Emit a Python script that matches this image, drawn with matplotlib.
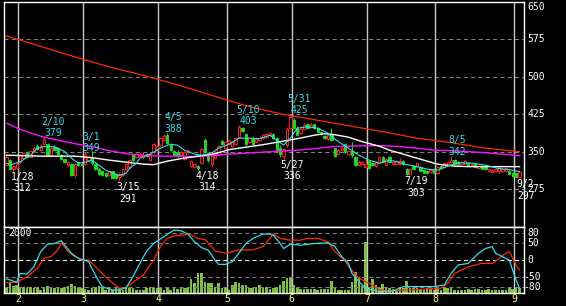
import numpy as np
import matplotlib.pyplot as plt

# daily candles, 2011/1/26 .. 9/2 (index = trading day)
opens = [323, 333, 316, 318, 330, 337, 349, 340, 350, 362,
         353, 365, 366, 344, 360, 357, 344, 336, 323, 326,
         303, 330, 326, 326, 333, 340, 325, 315, 311, 308,
         304, 311, 305, 300, 303, 316, 319, 345, 339, 342,
         340, 345, 334, 350, 353, 364, 374, 383, 363, 352,
         349, 344, 336, 349, 322, 320, 322, 327, 374, 345,
         326, 337, 345, 371, 357, 366, 362, 366, 380, 398,
         385, 370, 377, 369, 373, 377, 380, 384, 386, 377,
         357, 341, 363, 397, 414, 398, 387, 396, 405, 400,
         405, 398, 390, 381, 375, 383, 357, 345, 353, 366,
         345, 352, 340, 324, 325, 320, 331, 328, 322, 327,
         340, 323, 340, 326, 325, 326, 331, 316, 306, 322,
         321, 320, 314, 312, 310, 313, 307, 322, 319, 324,
         330, 333, 330, 326, 326, 327, 323, 325, 318, 321,
         319, 312, 310, 311, 312, 311, 312, 312, 308, 307,
         299]
highs = [343, 335, 324, 328, 345, 349, 351, 353, 361, 366,
         365, 379, 368, 360, 364, 359, 346, 338, 331, 328,
         327, 332, 329, 349, 343, 352, 327, 317, 313, 310,
         314, 312, 307, 309, 318, 328, 336, 346, 348, 347,
         350, 347, 347, 367, 364, 379, 385, 388, 365, 354,
         353, 352, 352, 356, 333, 327, 323, 358, 378, 348,
         343, 352, 364, 373, 372, 375, 372, 380, 403, 400,
         388, 380, 379, 379, 381, 385, 388, 390, 388, 380,
         363, 358, 400, 425, 418, 402, 398, 408, 407, 407,
         406, 400, 392, 384, 385, 397, 358, 355, 360, 368,
         353, 370, 342, 334, 331, 336, 333, 330, 331, 342,
         342, 338, 342, 332, 333, 337, 333, 318, 318, 324,
         330, 322, 316, 313, 315, 315, 322, 324, 330, 332,
         342, 335, 331, 332, 334, 329, 328, 327, 323, 323,
         322, 318, 316, 318, 323, 318, 319, 314, 310, 308,
         310]
lows = [322, 314, 312, 316, 328, 335, 337, 339, 349, 354,
        351, 363, 342, 342, 352, 344, 333, 327, 320, 301,
        300, 322, 322, 323, 330, 323, 314, 303, 301, 299,
        302, 297, 295, 291, 301, 314, 316, 331, 337, 339,
        336, 339, 331, 348, 351, 362, 372, 366, 351, 342,
        340, 342, 334, 346, 320, 317, 314, 325, 348, 330,
        322, 335, 343, 363, 355, 364, 360, 364, 378, 389,
        364, 368, 364, 367, 371, 375, 378, 382, 376, 352,
        340, 336, 360, 395, 396, 382, 385, 394, 395, 398,
        396, 388, 384, 376, 373, 371, 339, 343, 351, 348,
        343, 340, 322, 322, 323, 318, 316, 322, 320, 325,
        328, 321, 328, 324, 323, 323, 324, 303, 304, 314,
        319, 311, 307, 306, 308, 306, 305, 316, 317, 322,
        328, 324, 323, 324, 325, 322, 321, 318, 316, 315,
        313, 310, 308, 309, 308, 309, 310, 304, 300, 299,
        297]
closes = [339, 316, 322, 326, 343, 347, 339, 351, 358, 356,
          361, 376, 344, 357, 354, 346, 336, 329, 329, 303,
          325, 324, 324, 345, 340, 327, 316, 305, 303, 301,
          312, 298, 297, 306, 316, 326, 334, 333, 346, 345,
          344, 341, 346, 365, 362, 377, 382, 368, 353, 344,
          344, 350, 350, 351, 331, 325, 318, 355, 350, 333,
          341, 350, 362, 365, 370, 373, 370, 378, 399, 391,
          366, 377, 366, 376, 378, 383, 385, 387, 378, 354,
          346, 356, 396, 420, 398, 384, 396, 403, 397, 404,
          398, 390, 385, 378, 383, 373, 341, 353, 358, 350,
          351, 343, 324, 330, 329, 326, 318, 324, 329, 340,
          330, 336, 329, 330, 331, 332, 325, 305, 316, 315,
          327, 312, 308, 308, 313, 307, 320, 317, 328, 330,
          334, 326, 325, 330, 331, 324, 326, 319, 321, 316,
          315, 316, 314, 316, 318, 316, 317, 305, 301, 300,
          309]
volume = [210, 330, 220, 260, 210, 200, 160, 210, 160, 190,
          110, 210, 230, 160, 160, 160, 160, 210, 230, 310,
          240, 160, 160, 120, 100, 160, 210, 230, 160, 110,
          160, 110, 160, 160, 110, 200, 160, 160, 110, 110,
          100, 160, 210, 160, 160, 160, 110, 160, 110, 160,
          120, 160, 160, 160, 460, 320, 660, 660, 370, 320,
          320, 210, 320, 160, 160, 110, 270, 370, 320, 270,
          270, 160, 160, 210, 270, 160, 210, 120, 160, 160,
          270, 400, 490, 510, 270, 160, 140, 140, 140, 120,
          120, 100, 140, 120, 140, 400, 160, 110, 110, 110,
          110, 360, 700, 530, 240, 1700, 210, 455, 270, 160,
          300, 160, 160, 130, 110, 160, 160, 400, 160, 160,
          160, 140, 110, 160, 140, 110, 160, 110, 210, 160,
          160, 110, 100, 100, 110, 120, 100, 140, 120, 110,
          100, 130, 110, 100, 100, 110, 100, 200, 140, 200,
          180]

# moving averages (day index, price)
ma_short_days = [0, 1, 4, 7, 9, 11, 14, 17, 19, 21, 23, 25, 27, 29, 31, 33, 35, 36,
                 38, 39, 42, 45, 48, 50, 52, 55, 57, 60, 62, 65, 68, 71, 74, 77, 79,
                 81, 83, 85, 88, 91, 94, 97, 100, 103, 106, 109, 112, 114, 117, 120,
                 123, 126, 129, 132, 136, 140, 144, 147, 150]
ma_short = [327, 323, 330, 343, 357, 360, 360, 350, 337, 327, 329, 333, 323, 313, 307,
            302, 307, 317, 327, 337, 345, 357, 365, 363, 353, 345, 343, 347, 357, 365,
            377, 377, 376, 383, 373, 363, 377, 397, 400, 397, 387, 370, 357, 343, 333,
            327, 333, 330, 324, 320, 315, 313, 321, 328, 327, 323, 316, 314, 310]
ma_mid_days = [0, 10, 20, 25, 30, 35, 40, 43, 47, 51, 56, 61, 65, 70, 75, 80, 85, 90,
               93, 96, 100, 104, 109, 112, 116, 121, 126, 131, 135, 150]
ma_mid = [343, 341, 341, 338, 333, 329, 325, 324, 331, 336, 341, 346, 354, 359, 364,
          370, 376, 383, 386, 384, 379, 370, 361, 353, 345, 335, 325, 321, 320, 320]
ma_75_days = [0, 5, 10, 15, 20, 25, 30, 35, 40, 45, 50, 55, 60, 65, 70, 75, 80, 85, 90,
              95, 100, 105, 110, 115, 120, 125, 130, 135, 140, 145, 150]
ma_75 = [407, 392, 381, 373, 366, 360, 352, 346, 343, 341, 341, 340, 342, 345, 347, 349,
         351, 353, 356, 360, 361, 362, 362, 360, 357, 353, 352, 350, 348, 345, 342]
ma_long_days = [0, 10, 20, 30, 40, 50, 60, 70, 80, 90, 100, 110, 120, 130, 140, 150]
ma_long = [582, 561, 540, 520, 503, 484, 463, 442, 426, 414, 402, 390, 377, 368, 357, 350]

# oscillator (fast / slow)
osc_fast_days = [0, 3, 4, 6, 8, 10, 12, 14, 16, 17, 19, 21, 22, 24, 26, 28, 31, 33, 35,
                 37, 39, 41, 43, 46, 49, 51, 53, 55, 57, 59, 61, 62, 64, 66, 68, 70, 72,
                 75, 77, 78, 80, 81, 83, 86, 90, 94, 96, 98, 100, 101, 103, 105, 109,
                 113, 116, 119, 125, 128, 130, 132, 135, 138, 140, 142, 143, 145, 147,
                 148, 149, 150]
osc_fast = [-56, -66, -40, -42, -20, 25, 47, 49, 57, 44, 20, 5, 2, -5, -45, -80, -89, -89,
            -82, -49, -10, 27, 49, 69, 89, 87, 77, 54, 37, 29, -1, -13, -13, -5, 21, 49,
            64, 77, 77, 74, 49, 34, 47, 44, 49, 51, 40, 10, -10, -40, -64, -84, -94, -92,
            -79, -79, -79, -74, -40, -15, -10, 20, 34, 40, 20, 10, 0, -30, -60, -84]
osc_slow_days = [0, 3, 6, 9, 11, 13, 15, 16, 18, 20, 22, 24, 27, 30, 33, 35, 37, 40, 43,
                 45, 47, 49, 52, 53, 56, 58, 61, 64, 68, 72, 75, 78, 80, 83, 86, 88, 91,
                 94, 96, 99, 100, 103, 106, 109, 113, 117, 122, 127, 129, 131, 135, 139,
                 142, 146, 147, 149, 150]
osc_slow = [-67, -66, -50, -25, 5, 10, 30, 51, 25, 10, 0, 0, -30, -60, -84, -82, -66, -45,
            0, 40, 64, 72, 74, 79, 64, 61, 27, 20, 30, 30, 40, 77, 64, 59, 59, 64, 64, 54,
            25, -2, -20, -54, -69, -89, -91, -89, -87, -84, -69, -40, -20, -10, -10, 20,
            25, -15, -30]

month_starts = [4, 23, 45, 65, 84, 106, 126, 149]
month_labels = ['2', '3', '4', '5', '6', '7', '8', '9']
price_ticks = [650, 575, 500, 425, 350, 275]
osc_ticks = [80, 50, 0, -50, -80]

# swing highs / lows marked on the chart
peak_days = [11, 23, 47, 68, 83, 130]
peak_dates = ['2/10', '3/1', '4/5', '5/10', '5/31', '8/5']
trough_days = [2, 33, 56, 81, 117, 150]
trough_dates = ['1/28', '3/15', '4/18', '5/27', '7/19', '9/2']

plt.rcParams['font.family'] = 'DejaVu Sans Mono'
FS = 7
W, H = 566, 306


def rect(x0, y0, x1, y1):
    return [x0 / W, 1 - y1 / H, (x1 - x0) / W, (y1 - y0) / H]


fig = plt.figure(figsize=(W / 100, H / 100), dpi=100, facecolor='black')
ax = fig.add_axes(rect(4, 2, 524, 227), facecolor='black')
axv = fig.add_axes(rect(4, 227, 524, 293), facecolor='black')
axo = fig.add_axes(rect(4, 227, 524, 293), facecolor='none')

days = np.arange(len(closes))
o = np.array(opens)
c = np.array(closes)
hi = np.array(highs)
lo = np.array(lows)
up = c >= o
xlim = (-0.73, 151.3)
dash = (0, (4, 3))

# ---- price panel
for v in price_ticks[1:]:
    ax.axhline(v, color='#808080', ls=dash, lw=0.75, zorder=1)
for d in month_starts:
    ax.axvline(d - 0.6, color='#c8c8c8', lw=1.0, zorder=1)

col = np.where(up, '#ff2020', '#20d820')
ax.vlines(days, lo, hi, colors=col, lw=0.8, zorder=2)
ax.bar(days, c - o, bottom=o, width=0.68, color=np.where(up, 'black', '#20d820'),
       edgecolor=col, lw=0.7, zorder=3)

ax.plot(ma_long_days, ma_long, color='#ff2a00', lw=0.9, zorder=4)
ax.plot(ma_75_days, ma_75, color='#ff10ff', lw=1.0, zorder=4)
ax.plot(ma_mid_days, ma_mid, color='white', lw=1.0, zorder=4)
ax.plot(ma_short_days, ma_short, color='#30e0f0', lw=0.8, zorder=5)

for d, lab in zip(peak_days, peak_dates):
    ax.text(d - 0.8, highs[d] - 2, f'{lab}\n{highs[d]}', color='#40d8e8', fontsize=FS,
            ha='left', va='bottom', multialignment='center', zorder=6)
for d, lab in zip(trough_days, trough_dates):
    ax.text(d - 0.8, lows[d] - 2, f'{lab}\n{lows[d]}', color='white', fontsize=FS,
            ha='left', va='top', multialignment='center', zorder=6)

ax.set_xlim(*xlim)
ax.set_ylim(199, 650)
for v in price_ticks:
    ax.text(1.0058, v, str(v), transform=ax.get_yaxis_transform(), color='white',
            fontsize=FS, ha='left', va='top' if v == 650 else 'center', clip_on=False)

# ---- volume + oscillator panel
for d in month_starts:
    axv.axvline(d - 0.6, color='#c8c8c8', lw=1.0, zorder=1)
axv.bar(days, volume, width=0.75, color='#80c040', zorder=2)
axv.set_xlim(*xlim)
axv.set_ylim(0, 2200)
axv.text(0.008, 2000, '2000', transform=axv.get_yaxis_transform(), color='white',
         fontsize=FS, ha='left', va='center')

for v in osc_ticks:
    axo.axhline(v, color='white' if v == 0 else '#808080', ls=dash, lw=0.75, zorder=1)
axo.plot(osc_slow_days, osc_slow, color='#ff2a00', lw=0.9, zorder=3)
axo.plot(osc_fast_days, osc_fast, color='#30e0f0', lw=0.9, zorder=4)
axo.set_xlim(*xlim)
axo.set_ylim(-98, 98)
for v in osc_ticks:
    axo.text(1.0058 if v >= 0 else 0.998, v, str(v), transform=axo.get_yaxis_transform(),
             color='white', fontsize=FS, ha='left', va='center', clip_on=False)
for d, lab in zip(month_starts, month_labels):
    axo.text(d - 0.6, -0.09, lab, transform=axo.get_xaxis_transform(), color='#ffff80',
             fontsize=FS, ha='center', va='center', clip_on=False)

for a in (ax, axv, axo):
    a.set_xticks([])
    a.set_yticks([])
for a in (ax, axv):
    for s in a.spines.values():
        s.set_color('white')
        s.set_linewidth(1.0)
for s in axo.spines.values():
    s.set_visible(False)

fig.savefig('out.png', dpi=100, facecolor='black')
